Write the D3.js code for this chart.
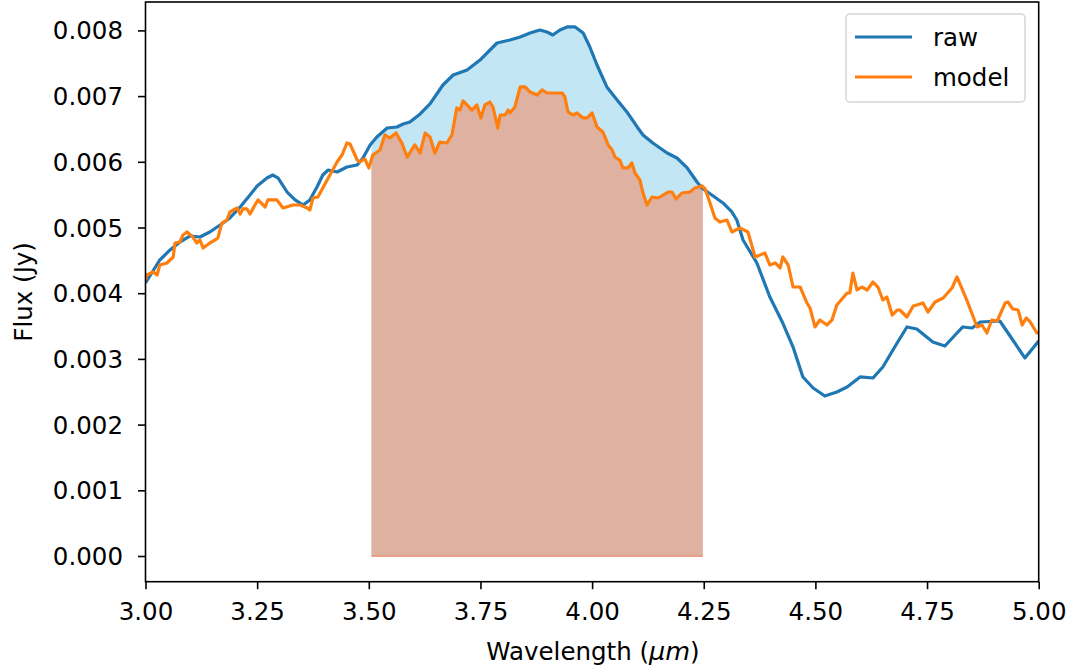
<!DOCTYPE html>
<html><head><meta charset="utf-8">
<script src="https://cdn.jsdelivr.net/npm/d3@7"></script>
<style>body{margin:0;background:#fff}svg text{font-family:"DejaVu Sans",sans-serif}</style>
</head><body><svg id="c" width="1070" height="669"></svg>
<script>
const rawWave = [3.000,3.032,3.055,3.077,3.100,3.122,3.144,3.167,3.189,3.212,3.234,3.250,3.272,3.285,3.297,3.317,3.335,3.353,3.368,3.384,3.397,3.409,3.429,3.451,3.474,3.487,3.503,3.518,3.541,3.563,3.577,3.592,3.615,3.637,3.666,3.689,3.720,3.749,3.787,3.816,3.839,3.861,3.883,3.899,3.912,3.928,3.944,3.962,3.980,3.995,4.011,4.033,4.056,4.078,4.101,4.114,4.136,4.168,4.190,4.213,4.235,4.246,4.268,4.293,4.313,4.324,4.338,4.369,4.398,4.427,4.450,4.472,4.495,4.521,4.548,4.571,4.600,4.629,4.651,4.683,4.705,4.727,4.763,4.790,4.817,4.830,4.851,4.869,4.913,4.942,4.969,5.000];
const rawFlux = [4.155,4.505,4.658,4.779,4.871,4.855,4.932,5.038,5.145,5.312,5.495,5.632,5.753,5.799,5.753,5.540,5.419,5.342,5.419,5.616,5.799,5.875,5.845,5.921,5.951,6.058,6.256,6.377,6.514,6.530,6.575,6.606,6.728,6.880,7.169,7.321,7.397,7.549,7.808,7.854,7.900,7.960,8.006,7.976,7.930,8.006,8.052,8.052,7.960,7.747,7.473,7.139,6.941,6.758,6.530,6.408,6.286,6.134,6.058,5.906,5.693,5.601,5.495,5.373,5.236,5.114,4.810,4.460,3.942,3.546,3.181,2.725,2.557,2.435,2.496,2.572,2.725,2.709,2.877,3.242,3.486,3.455,3.257,3.196,3.394,3.486,3.470,3.562,3.577,3.288,3.014,3.272].map(v => v * 1e-3);

const modelWave = [3.000,3.003,3.017,3.026,3.032,3.048,3.062,3.066,3.077,3.084,3.093,3.106,3.115,3.122,3.129,3.144,3.156,3.162,3.171,3.182,3.189,3.205,3.212,3.218,3.227,3.234,3.245,3.252,3.268,3.274,3.294,3.308,3.330,3.346,3.362,3.368,3.375,3.386,3.397,3.413,3.429,3.440,3.451,3.458,3.474,3.480,3.491,3.500,3.509,3.525,3.536,3.547,3.561,3.574,3.586,3.603,3.615,3.626,3.637,3.648,3.659,3.675,3.686,3.697,3.704,3.711,3.720,3.731,3.742,3.751,3.760,3.771,3.778,3.789,3.794,3.805,3.812,3.816,3.827,3.839,3.850,3.861,3.877,3.888,3.899,3.933,3.939,3.946,3.957,3.966,3.980,3.989,4.000,4.011,4.024,4.036,4.045,4.051,4.062,4.069,4.080,4.089,4.096,4.107,4.114,4.123,4.134,4.148,4.170,4.179,4.188,4.201,4.219,4.230,4.246,4.253,4.264,4.275,4.286,4.302,4.313,4.331,4.349,4.365,4.387,4.398,4.410,4.421,4.427,4.439,4.450,4.466,4.481,4.488,4.499,4.510,4.526,4.537,4.548,4.571,4.577,4.584,4.593,4.604,4.616,4.629,4.640,4.651,4.660,4.672,4.683,4.689,4.705,4.719,4.734,4.741,4.752,4.768,4.786,4.806,4.817,4.839,4.862,4.873,4.884,4.895,4.907,4.925,4.931,4.942,4.954,4.963,4.972,4.981,4.996,5.000];
const modelFlux = [4.201,4.277,4.323,4.277,4.429,4.460,4.551,4.764,4.779,4.886,4.932,4.855,4.764,4.810,4.688,4.764,4.810,4.840,5.068,5.114,5.236,5.297,5.205,5.282,5.282,5.205,5.342,5.419,5.312,5.419,5.419,5.297,5.342,5.342,5.297,5.266,5.449,5.464,5.601,5.799,5.997,6.103,6.286,6.271,6.027,5.997,6.043,5.906,6.103,6.180,6.408,6.362,6.438,6.286,6.073,6.256,6.134,6.438,6.377,6.134,6.301,6.286,6.408,6.819,6.788,6.925,6.865,6.788,6.865,6.667,6.865,6.910,6.834,6.514,6.712,6.712,6.788,6.743,6.834,7.139,7.139,7.062,7.017,7.093,7.047,7.047,6.986,6.758,6.712,6.743,6.667,6.667,6.743,6.530,6.454,6.256,6.180,6.073,6.027,5.906,5.906,5.982,5.830,5.723,5.525,5.342,5.464,5.449,5.540,5.540,5.434,5.525,5.540,5.601,5.632,5.586,5.373,5.145,5.084,5.114,4.932,4.992,4.932,4.551,4.612,4.429,4.460,4.384,4.551,4.429,4.094,4.094,3.851,3.775,3.486,3.592,3.516,3.592,3.820,4.003,4.003,4.307,4.049,4.094,4.049,4.170,4.094,3.896,3.942,3.668,3.744,3.744,3.638,3.805,3.836,3.851,3.714,3.866,3.927,4.079,4.247,3.896,3.486,3.516,3.394,3.592,3.577,3.851,3.866,3.760,3.744,3.516,3.623,3.562,3.394,3.394].map(v => v * 1e-3);

const fillRange = [3.506, 4.248];
const xTicks = [3.00, 3.25, 3.50, 3.75, 4.00, 4.25, 4.50, 4.75, 5.00];
const yTicks = [0.000, 0.001, 0.002, 0.003, 0.004, 0.005, 0.006, 0.007, 0.008];
const seriesNames = ["raw", "model"];
const seriesColors = ["#1f77b4", "#ff7f0e"];

const FS = 24.5;
const svg = d3.select("#c");
const L = 145.5, R = 1038.7, T = 2, B = 581.7;
const x = d3.scaleLinear().domain([3, 5]).range([L, R]);
const y = d3.scaleLinear().domain([-0.000391, 0.008432]).range([B, T]);

const raw = rawWave.map((w, i) => [w, rawFlux[i]]);
const model = modelWave.map((w, i) => [w, modelFlux[i]]);

const defs = svg.append("defs");
defs.append("clipPath").attr("id", "fillclip")
  .append("rect").attr("x", x(fillRange[0])).attr("y", 0)
  .attr("width", x(fillRange[1]) - x(fillRange[0])).attr("height", 669);
defs.append("clipPath").attr("id", "plotclip")
  .append("rect").attr("x", L).attr("y", T).attr("width", R - L).attr("height", B - T);

const area = d3.area().x(d => x(d[0])).y0(y(0)).y1(d => y(d[1]));
const g = svg.append("g").attr("clip-path", "url(#fillclip)");
g.append("path").datum(raw).attr("d", area).attr("fill", "#c3e6f4");
g.append("path").datum(model).attr("d", area).attr("fill", "#dfb1a0")
  .attr("stroke", "#e9a088").attr("stroke-width", 2);

const line = d3.line().x(d => x(d[0])).y(d => y(d[1]));
const lg = svg.append("g").attr("clip-path", "url(#plotclip)");
[raw, model].forEach((s, i) => {
  lg.append("path").datum(s).attr("d", line).attr("fill", "none")
    .attr("stroke", seriesColors[i]).attr("stroke-width", 3.2)
    .attr("stroke-linejoin", "round").attr("stroke-linecap", "butt");
});

// axes
const xAxis = svg.append("g").attr("transform", `translate(0,${B})`)
  .call(d3.axisBottom(x).tickValues(xTicks).tickFormat(d3.format(".2f")).tickSize(7.5).tickPadding(13.5));
const yAxis = svg.append("g").attr("transform", `translate(${L},0)`)
  .call(d3.axisLeft(y).tickValues(yTicks).tickFormat(d3.format(".3f")).tickSize(7.5).tickPadding(15));
[xAxis, yAxis].forEach(a => {
  a.select(".domain").remove();
  a.selectAll(".tick line").attr("stroke", "#000").attr("stroke-width", 1.6);
  a.selectAll("text").attr("font-size", FS).attr("fill", "#000").attr("font-family", "DejaVu Sans");
});
yAxis.selectAll("text").attr("dy", "0.35em");

svg.append("rect").attr("x", L).attr("y", T).attr("width", R - L).attr("height", B - T)
  .attr("fill", "none").attr("stroke", "#000").attr("stroke-width", 1.6);

// labels
const xl = svg.append("text").attr("x", 593).attr("y", 660).attr("text-anchor", "middle")
  .attr("font-size", FS).attr("fill", "#000");
xl.append("tspan").text("Wavelength (");
xl.append("tspan").attr("font-style", "italic").attr("font-family", "DejaVu Sans").attr("font-size", FS + 1).text("μm");
xl.append("tspan").text(")");
svg.append("text").attr("transform", `translate(32,${(T + B) / 2}) rotate(-90)`)
  .attr("text-anchor", "middle").attr("font-size", FS).attr("fill", "#000").text("Flux (Jy)");

// legend
const leg = svg.append("g");
leg.append("rect").attr("x", 846).attr("y", 14).attr("width", 179).attr("height", 88).attr("rx", 4)
  .attr("fill", "#fff").attr("fill-opacity", 0.8).attr("stroke", "#d6d6d6").attr("stroke-width", 1.5);
seriesNames.forEach((n, i) => {
  const yy = 37 + i * 40;
  leg.append("line").attr("x1", 855).attr("x2", 912).attr("y1", yy).attr("y2", yy)
    .attr("stroke", seriesColors[i]).attr("stroke-width", 3.2);
  leg.append("text").attr("x", 933).attr("y", yy).attr("dy", "0.35em").attr("font-size", FS)
    .attr("fill", "#000").text(n);
});
</script></body></html>
